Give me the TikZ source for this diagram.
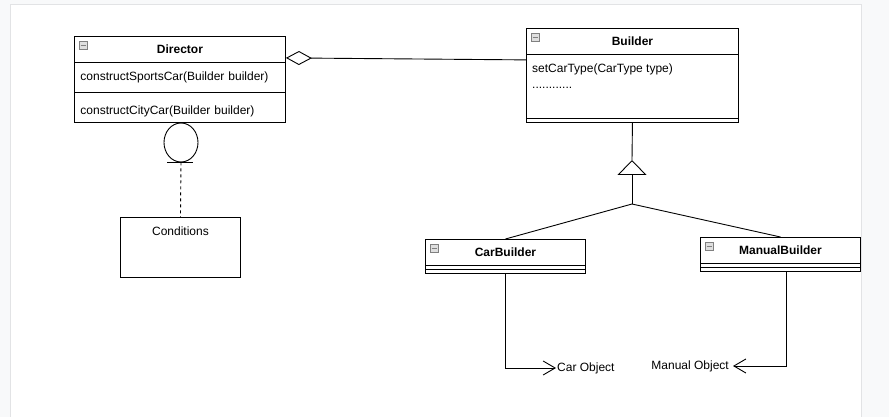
\documentclass[tikz,border=0pt]{standalone}
\usepackage{fontspec}
\setmainfont{Liberation Sans}
\usetikzlibrary{arrows.meta,shapes.geometric}

\definecolor{canvasbg}{HTML}{F8F9FA}
\definecolor{pageedge}{HTML}{E2E3E5}

\begin{document}
\begin{tikzpicture}[x=1pt,y=-1pt,font=\fontsize{12}{14}\selectfont,
    part/.style={draw,line width=0.9pt,anchor=north west,inner sep=0pt,minimum height=#1},
    head/.style={part=26,font=\fontsize{12}{14}\selectfont\bfseries},
    icon/.style={draw=gray,fill=gray!25,minimum size=8pt,inner sep=0pt,anchor=north west,
      path picture={\draw[line width=1pt] ([xshift=1.5pt]path picture bounding box.west) -- ([xshift=-1.5pt]path picture bounding box.east);}},
    conn/.style={line width=0.9pt}]
			\useasboundingbox (0,0) rectangle (889,417);
			\fill [canvasbg] (0,0) rectangle (889,417);
			\filldraw [fill=white, draw=pageedge] (10,4) rectangle (861,420);
			% Director
			\node [head, minimum width=211pt] (dirhead) at (74,36) {Director};
			\node [part=30pt, text width=199pt, inner xsep=6pt, align=left] (dirsports) at (74,62) {constructSportsCar(Builder builder)};
			\node [part=30pt, text width=199pt, inner xsep=6pt, align=left, text height=14pt, text depth=0pt] (dircity) at (74,92) {constructCityCar(Builder builder)};
			\node [icon] (icdir) at ([shift={(5pt,-5pt)}]dirhead.north west) {};
			% Builder
			\node [head, minimum width=212pt] (bhead) at (526,28) {Builder};
			\node [part=64pt, minimum width=212pt] (bbody) at (526,54) {};
			\node [part=4pt, minimum width=212pt] (bfoot) at (526,118) {};
			\node [anchor=north west, inner sep=0pt, align=left] (bops) at (532,64) {setCarType(CarType type)\\[2pt]............};
			\node [icon] (icb) at ([shift={(5pt,-5pt)}]bhead.north west) {};
			% CarBuilder
			\node [head, minimum width=160pt] (cbhead) at (425,239) {CarBuilder};
			\node [part=4pt, minimum width=160pt] (cbmid) at (425,265) {};
			\node [part=4pt, minimum width=160pt] (cbfoot) at (425,269) {};
			\node [icon] (iccb) at ([shift={(5pt,-5pt)}]cbhead.north west) {};
			% ManualBuilder
			\node [head, minimum width=160pt] (mbhead) at (700,237) {ManualBuilder};
			\node [part=4pt, minimum width=160pt] (mbmid) at (700,263) {};
			\node [part=4pt, minimum width=160pt] (mbfoot) at (700,267) {};
			\node [icon] (icmb) at ([shift={(5pt,-5pt)}]mbhead.north west) {};
			% Conditions
			\node [draw, ellipse, line width=0.9pt, minimum width=34pt, minimum height=39pt, inner sep=0pt] (iface) at (181,142.5) {};
			\node [part=60pt, minimum width=120pt] (cond) at (120,217) {};
			\node (condtext) at ([yshift=-14pt]cond.north) {Conditions};
			\draw [conn] ([xshift=-14pt]iface.south) -- ([xshift=12pt]iface.south);
			\draw [conn, dash pattern=on 3pt off 3pt] (iface.south) -- (cond.north);
			% aggregation
			\draw [conn] [-{Diamond[open,length=26pt,width=14pt]}] ([yshift=-5pt]bhead.south west) -- ([yshift=5pt]dirhead.south east);
			% generalization
			\coordinate (tip) at (632,160);
			\coordinate (junc) at (632,204);
			\draw [conn] (bfoot.south) -- (tip);
			\draw [conn] [-{Triangle[open,length=15pt,width=29pt]}] (junc) -- (tip);
			\draw [conn] (cbhead.north) -- (junc);
			\draw [conn] (mbhead.north) -- (junc);
			% products
			\node [anchor=west, inner sep=1pt] (carobj) at (556,368) {Car Object};
			\node [anchor=east, inner sep=1pt] (manobj) at (730,366) {Manual Object};
			\draw [conn] [-{Straight Barb[length=12pt,width=14pt]}] (cbfoot.south) |- (carobj.west);
			\draw [conn] [-{Straight Barb[length=12pt,width=14pt]}] ([xshift=6pt]mbfoot.south) |- ([xshift=3pt]manobj.east);
		\end{tikzpicture}
\end{document}
